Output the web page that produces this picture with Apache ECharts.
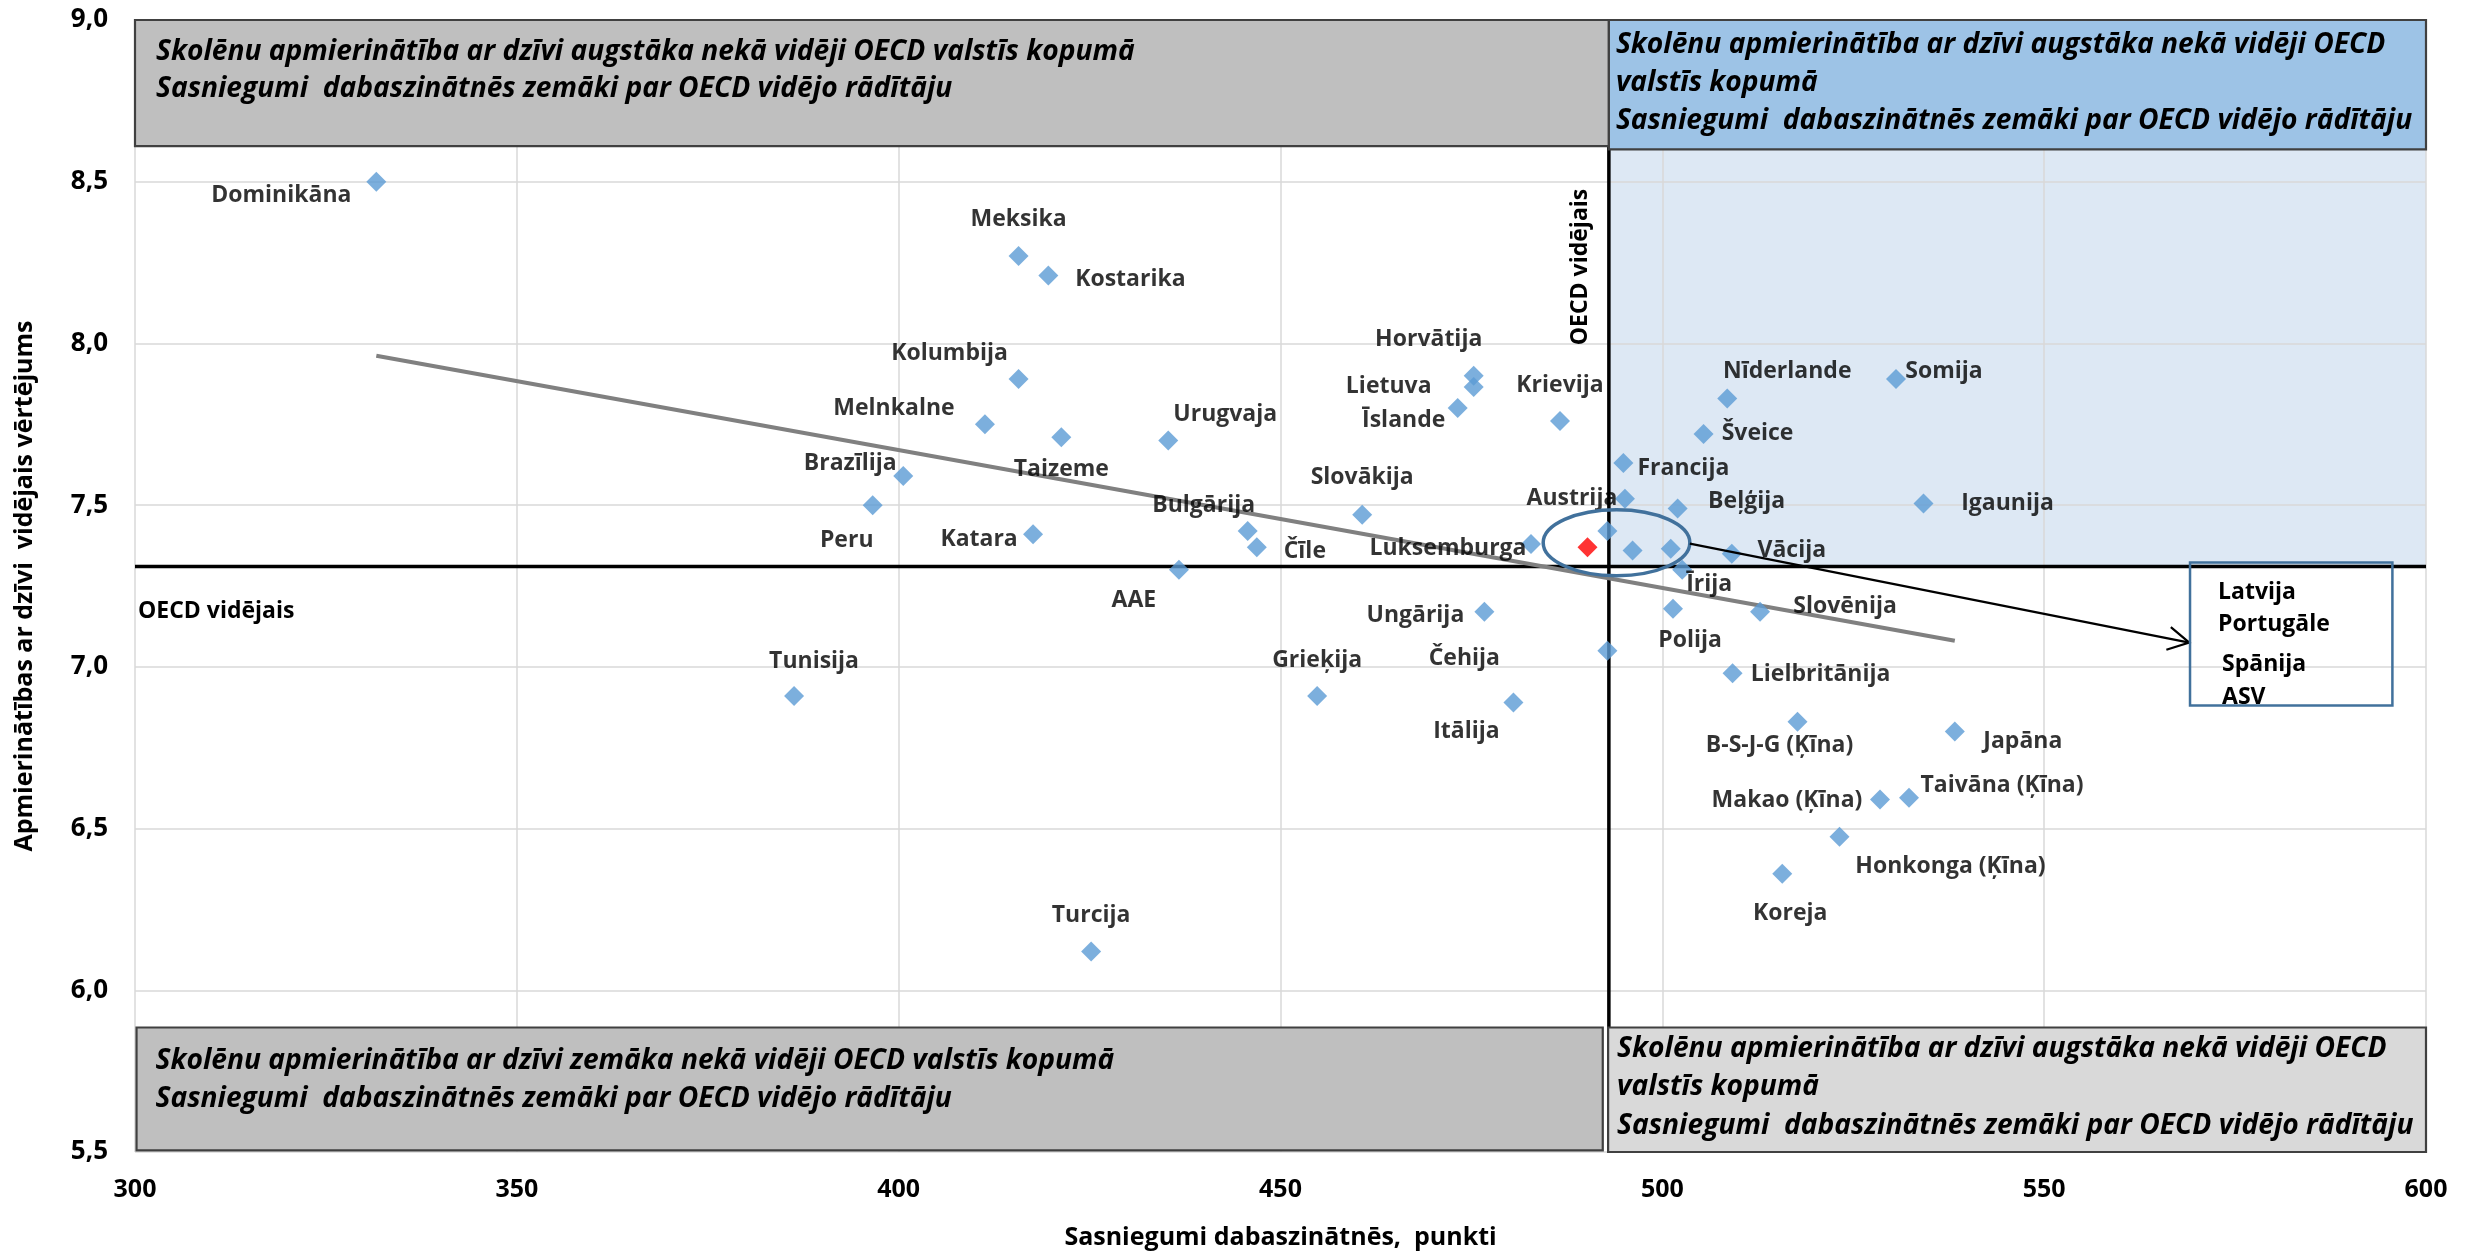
<!DOCTYPE html>
<html><head><meta charset="utf-8">
<script src="https://cdn.jsdelivr.net/npm/echarts@6/dist/echarts.min.js"></script>
<style>html,body{margin:0;padding:0;background:#fff}#c{width:2468px;height:1255px}</style>
</head><body><div id="c"></div><script>
// ---------------- DATA ----------------
const countries = ['Dominikāna','Meksika','Kostarika','Kolumbija','Melnkalne','Taizeme','Urugvaja','Brazīlija','Peru','Katara',
  'Bulgārija','Čīle','AAE','Tunisija','Turcija','Slovākija','Horvātija','Lietuva','Īslande','Krievija',
  'Luksemburga','Ungārija','Grieķija','Čehija','Itālija','Austrija','Francija','Nīderlande','Somija','Šveice',
  'Beļģija','Igaunija','Vācija','Īrija','Slovēnija','Polija','Lielbritānija','B-S-J-G (Ķīna)','Japāna','Makao (Ķīna)',
  'Taivāna (Ķīna)','Honkonga (Ķīna)','Koreja','Spānija','ASV','Portugāle'];
const science = [331.6,415.7,419.6,415.7,411.3,421.3,435.3,400.6,396.6,417.6,
  445.7,446.9,436.7,386.3,425.2,460.7,475.3,475.3,473.2,486.6,
  482.8,476.7,454.8,492.8,480.5,495.1,494.9,508.5,530.6,505.4,
  502.0,534.2,509.1,502.6,512.8,501.4,509.2,517.7,538.3,528.5,
  532.3,523.2,515.7,492.8,496.1,501.1];
const satisfaction = [8.50,8.27,8.21,7.89,7.75,7.71,7.70,7.59,7.50,7.41,
  7.42,7.37,7.30,6.91,6.12,7.47,7.90,7.865,7.80,7.76,
  7.38,7.17,6.91,7.05,6.89,7.52,7.63,7.83,7.89,7.72,
  7.49,7.505,7.35,7.30,7.17,7.18,6.98,6.83,6.80,6.59,
  6.595,6.475,6.36,7.42,7.36,7.365];
const latviaName = ['Latvija'];
const latviaScience = [490.2];
const latviaSatisfaction = [7.37];
const trendScience = [331.6, 538.3];
const trendSatisfaction = [7.962, 7.081];
const oecdScience = 493;
const oecdSatisfaction = 7.31;
const xTickValues = [300,350,400,450,500,550,600];
const xTickLabels = ['300','350','400','450','500','550','600'];
const yTickValues = [5.5,6.0,6.5,7.0,7.5,8.0,8.5,9.0];
const yTickLabels = ['5,5','6,0','6,5','7,0','7,5','8,0','8,5','9,0'];
const groupNames = ['Latvija','Portugāle','Spānija','ASV'];

// ---------------- LAYOUT (label offsets, annotation geometry) ----------------
const labelOffsets = {
  'Dominikāna':[-95,14],'Meksika':[0,-37],'Kostarika':[82,4],'Kolumbija':[-69,-26],'Melnkalne':[-91,-16],
  'Taizeme':[0,32],'Urugvaja':[57,-26],'Brazīlija':[-53,-13],'Peru':[-26,35],'Katara':[-54,5],
  'Bulgārija':[-44,-26],'Čīle':[48,4],'AAE':[-45,31],'Tunisija':[20,-35],'Turcija':[0,-36],
  'Slovākija':[0,-37],'Horvātija':[-45,-36],'Lietuva':[-85,-1],'Īslande':[-54,12],'Krievija':[0,-36],
  'Luksemburga':[-83,4],'Ungārija':[-69,4],'Grieķija':[0,-36],'Čehija':[-143,8],'Itālija':[-47,29],
  'Austrija':[-53,0],'Francija':[60,5],'Nīderlande':[60,-27],'Somija':[48,-8],'Šveice':[54,-1],
  'Beļģija':[69,-7],'Igaunija':[84,0],'Vācija':[60,-3],'Īrija':[27,15],'Slovēnija':[85,-5],
  'Polija':[17,32],'Lielbritānija':[88,1],'B-S-J-G (Ķīna)':[-18,24],'Japāna':[68,10],'Makao (Ķīna)':[-93,1],
  'Taivāna (Ķīna)':[93,-12],'Honkonga (Ķīna)':[111,30],'Koreja':[8,40]
};
const FONT = '"Open Sans", "Liberation Sans", sans-serif';
const line1 = 'Skolēnu apmierinātība ar dzīvi augstāka nekā vidēji OECD valstīs kopumā';
const quadrantBoxes = [
  {x1:300, y1:9.0, x2:493, y2:8.61, fill:'#bfbfbf', stroke:'#404040', dx:21, dy:32, gap:37,
   lines:['Skolēnu apmierinātība ar dzīvi augstāka nekā vidēji OECD valstīs kopumā','Sasniegumi  dabaszinātnēs zemāki par OECD vidējo rādītāju']},
  {x1:493, y1:9.0, x2:600, y2:8.60, fill:'#9dc3e6', stroke:'#404040', dx:7, dy:25, gap:38,
   lines:['Skolēnu apmierinātība ar dzīvi augstāka nekā vidēji OECD','valstīs kopumā','Sasniegumi  dabaszinātnēs zemāki par OECD vidējo rādītāju']},
  {x1:300.2, y1:5.885, x2:492.2, y2:5.505, fill:'#bfbfbf', stroke:'#404040', dx:19, dy:33, gap:38,
   lines:['Skolēnu apmierinātība ar dzīvi zemāka nekā vidēji OECD valstīs kopumā','Sasniegumi  dabaszinātnēs zemāki par OECD vidējo rādītāju']},
  {x1:492.9, y1:5.885, x2:600, y2:5.5, fill:'#d9d9d9', stroke:'#404040', dx:9, dy:21, gap:38.5,
   lines:['Skolēnu apmierinātība ar dzīvi augstāka nekā vidēji OECD','valstīs kopumā','Sasniegumi  dabaszinātnēs zemāki par OECD vidējo rādītāju']}
];
const blueRegion = {x1:493, y1:8.60, x2:600, y2:oecdSatisfaction};
const ellipseSpec = {cx:494.0, cy:7.384, rx:9.6, ry:0.102};
const arrowSpec = {from:[503.6, 7.381], to:[569.0, 7.075]};
const legendBoxSpec = {x1:569.1, y1:7.3225, x2:595.6, y2:6.8806,
  textPos:[[28,30],[28,62],[32,102],[32,135]]};

function fitSize(text, target, style) {
  const ctx = document.createElement('canvas').getContext('2d');
  ctx.font = style + ' 100px ' + FONT;
  return 100 * target / ctx.measureText(text).width;
}
const boxFontSize = Math.min(30, fitSize(line1, 979, 'italic bold'));

const scatterData = countries.map((n, i) => {
  const off = labelOffsets[n];
  return {name:n, value:[science[i], satisfaction[i]],
    label: off ? {show:true, offset:off} : {show:false}};
});
const latviaData = latviaName.map((n, i) => ({name:n, value:[latviaScience[i], latviaSatisfaction[i]]}));
const trendData = trendScience.map((x, i) => [x, trendSatisfaction[i]]);

const txt = (x, y, text, opt) => Object.assign({type:'text', x, y, silent:true,
  style:Object.assign({text, fill:'#000', fontSize:23, fontWeight:'bold', fontFamily:FONT, align:'left', verticalAlign:'middle'}, opt||{})});

const chart = echarts.init(document.getElementById('c'), null, {renderer:'canvas'});
chart.setOption({
  backgroundColor:'#ffffff',
  animation:false,
  grid:{left:135, right:42, top:20, bottom:101},
  xAxis:{type:'value', min:300, max:600, interval:50, z:2,
    name:'Sasniegumi dabaszinātnēs,  punkti', nameLocation:'middle', nameGap:73,
    nameTextStyle:{fontSize:25, fontWeight:'bold', color:'#000', fontFamily:FONT},
    axisLine:{show:false}, axisTick:{show:false},
    axisLabel:{margin:25, fontSize:25, fontWeight:'bold', color:'#000', fontFamily:FONT,
      formatter:v => xTickLabels[xTickValues.indexOf(Math.round(v))]},
    splitLine:{show:true, lineStyle:{color:'#d9d9d9', width:1.5}}},
  yAxis:{type:'value', min:5.5, max:9.0, interval:0.5, z:2,
    name:'Apmierinātības ar dzīvi  vidējais vērtējums', nameLocation:'middle', nameGap:98,
    nameTextStyle:{fontSize:25, fontWeight:'bold', color:'#000', fontFamily:FONT},
    axisLine:{show:false}, axisTick:{show:false},
    axisLabel:{margin:27, fontSize:26, fontWeight:'bold', color:'#000', fontFamily:FONT,
      formatter:v => yTickLabels[yTickValues.indexOf(Math.round(v*10)/10)]},
    splitLine:{show:true, lineStyle:{color:'#d9d9d9', width:1.5}}},
  series:[
    {type:'custom', name:'region', z:1, silent:true,
      data:[[blueRegion.x1, blueRegion.y1, blueRegion.x2, blueRegion.y2]],
      encode:{x:[0,2], y:[1,3]},
      renderItem:(p, api) => {
        const a = api.coord([api.value(0), api.value(1)]);
        const b = api.coord([api.value(2), api.value(3)]);
        return {type:'rect', shape:{x:a[0], y:a[1], width:b[0]-a[0], height:b[1]-a[1]}, style:{fill:'#dde8f4'}};
      }},
    {type:'custom', name:'oecd', z:3, silent:true,
      data:[[oecdScience, oecdSatisfaction]],
      renderItem:(p, api) => {
        const c = api.coord([api.value(0), api.value(1)]);
        const top = api.coord([oecdScience, 9.0]);
        const bot = api.coord([oecdScience, 5.5]);
        const left = api.coord([300, oecdSatisfaction]);
        const right = api.coord([600, oecdSatisfaction]);
        const vLabel = txt(c[0]-28, top[1]+247, 'OECD vidējais', {align:'center'});
        vLabel.rotation = Math.PI/2;
        return {type:'group', children:[
          {type:'line', shape:{x1:c[0], y1:top[1], x2:c[0], y2:bot[1]}, style:{stroke:'#000', lineWidth:3.5}},
          {type:'line', shape:{x1:left[0], y1:c[1], x2:right[0], y2:c[1]}, style:{stroke:'#000', lineWidth:3.5}},
          txt(left[0]+3, c[1]+45, 'OECD vidējais'),
          vLabel
        ]};
      }},
    {type:'line', name:'trend', z:4, silent:true, data:trendData, symbol:'none',
      lineStyle:{color:'#808080', width:4}},
    {type:'scatter', name:'valstis', z:5, data:scatterData, symbol:'diamond', symbolSize:20,
      itemStyle:{color:'#5b9bd5'},
      label:{position:'inside', formatter:'{b}', color:'#000', fontSize:23, fontWeight:'bold', fontFamily:FONT}},
    {type:'scatter', name:'Latvija', z:5, data:latviaData, symbol:'diamond', symbolSize:20,
      itemStyle:{color:'#ff0000'}, label:{show:false}},
    {type:'custom', name:'boxes', z:6, silent:true,
      data:quadrantBoxes.map(b => [b.x1, b.y1, b.x2, b.y2]),
      encode:{x:[0,2], y:[1,3]},
      renderItem:(p, api) => {
        const b = quadrantBoxes[p.dataIndex];
        const a = api.coord([api.value(0), api.value(1)]);
        const c = api.coord([api.value(2), api.value(3)]);
        const children = [{type:'rect', shape:{x:a[0], y:a[1], width:c[0]-a[0], height:c[1]-a[1]},
          style:{fill:b.fill, stroke:b.stroke, lineWidth:2.2}}];
        b.lines.forEach((t, i) => children.push(txt(a[0]+b.dx, a[1]+b.dy+i*b.gap, t,
          {fontStyle:'italic', fontSize:boxFontSize})));
        return {type:'group', children};
      }},
    {type:'custom', name:'annotations', z:7, silent:true,
      data:[[ellipseSpec.cx, ellipseSpec.cy]],
      renderItem:(p, api) => {
        const c = api.coord([api.value(0), api.value(1)]);
        const r = api.size([ellipseSpec.rx, ellipseSpec.ry]);
        const f = api.coord(arrowSpec.from), t = api.coord(arrowSpec.to);
        const ang = Math.atan2(t[1]-f[1], t[0]-f[0]);
        const L = 24, w = 0.5;
        const h1 = [t[0]-L*Math.cos(ang-w), t[1]-L*Math.sin(ang-w)];
        const h2 = [t[0]-L*Math.cos(ang+w), t[1]-L*Math.sin(ang+w)];
        const b1 = api.coord([legendBoxSpec.x1, legendBoxSpec.y1]);
        const b2 = api.coord([legendBoxSpec.x2, legendBoxSpec.y2]);
        const children = [
          {type:'ellipse', shape:{cx:c[0], cy:c[1], rx:r[0], ry:r[1]}, style:{fill:null, stroke:'#41719c', lineWidth:3.5}},
          {type:'line', shape:{x1:f[0], y1:f[1], x2:t[0], y2:t[1]}, style:{stroke:'#000', lineWidth:2.2}},
          {type:'polyline', shape:{points:[h1, t, h2]}, style:{fill:null, stroke:'#000', lineWidth:2.2}},
          {type:'rect', shape:{x:b1[0], y:b1[1], width:b2[0]-b1[0], height:b2[1]-b1[1]}, style:{fill:null, stroke:'#41719c', lineWidth:2.5}}
        ];
        groupNames.forEach((n, i) => {
          const tp = legendBoxSpec.textPos[i];
          children.push(txt(b1[0]+tp[0], b1[1]+tp[1], n));
        });
        return {type:'group', children};
      }}
  ]
});
</script></body></html>
